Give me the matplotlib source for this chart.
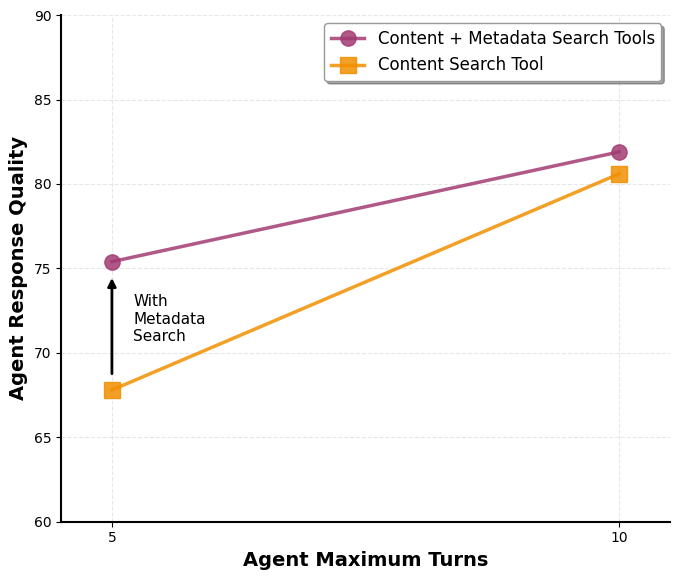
import matplotlib
matplotlib.use('Agg')
import matplotlib.pyplot as plt

turns = [5, 10]
with_meta = [75.4, 81.9]
content_only = [67.8, 80.6]
xticks = [5, 10]
yticks = [60, 65, 70, 75, 80, 85, 90]

fig, ax = plt.subplots(figsize=(6.8, 5.81), dpi=100)
fig.subplots_adjust(left=0.09, right=0.985, top=0.974, bottom=0.102)

ax.plot(turns, with_meta, '-o', color='#A23B72', lw=2.5, markersize=11,
        alpha=0.85, label='Content + Metadata Search Tools')
ax.plot(turns, content_only, '-s', color='#F18F01', lw=2.5, markersize=11,
        alpha=0.85, label='Content Search Tool')

ax.annotate('', xy=(5, with_meta[0] - 0.8), xytext=(5, content_only[0] + 0.8),
            arrowprops=dict(arrowstyle='-|>', color='black', lw=2, mutation_scale=12))
ax.text(5.21, 72.0, 'With\nMetadata\nSearch', fontsize=11, va='center', ha='left')

ax.set_xlim(4.5, 10.5)
ax.set_ylim(60, 90)
ax.set_xticks(xticks)
ax.set_yticks(yticks)
ax.tick_params(labelsize=10)
ax.set_xlabel('Agent Maximum Turns', fontsize=14, fontweight='bold')
ax.set_ylabel('Agent Response Quality', fontsize=14, fontweight='bold')
ax.grid(True, linestyle='--', alpha=0.3)
ax.spines['top'].set_visible(False)
ax.spines['right'].set_visible(False)
ax.spines['left'].set_linewidth(1.5)
ax.spines['bottom'].set_linewidth(1.5)
leg = ax.legend(fontsize=12, loc='upper right', shadow=True, frameon=True,
                bbox_to_anchor=(1.0, 1.0))
leg.get_frame().set_edgecolor('0.6')

plt.savefig('out.png', dpi=100)
